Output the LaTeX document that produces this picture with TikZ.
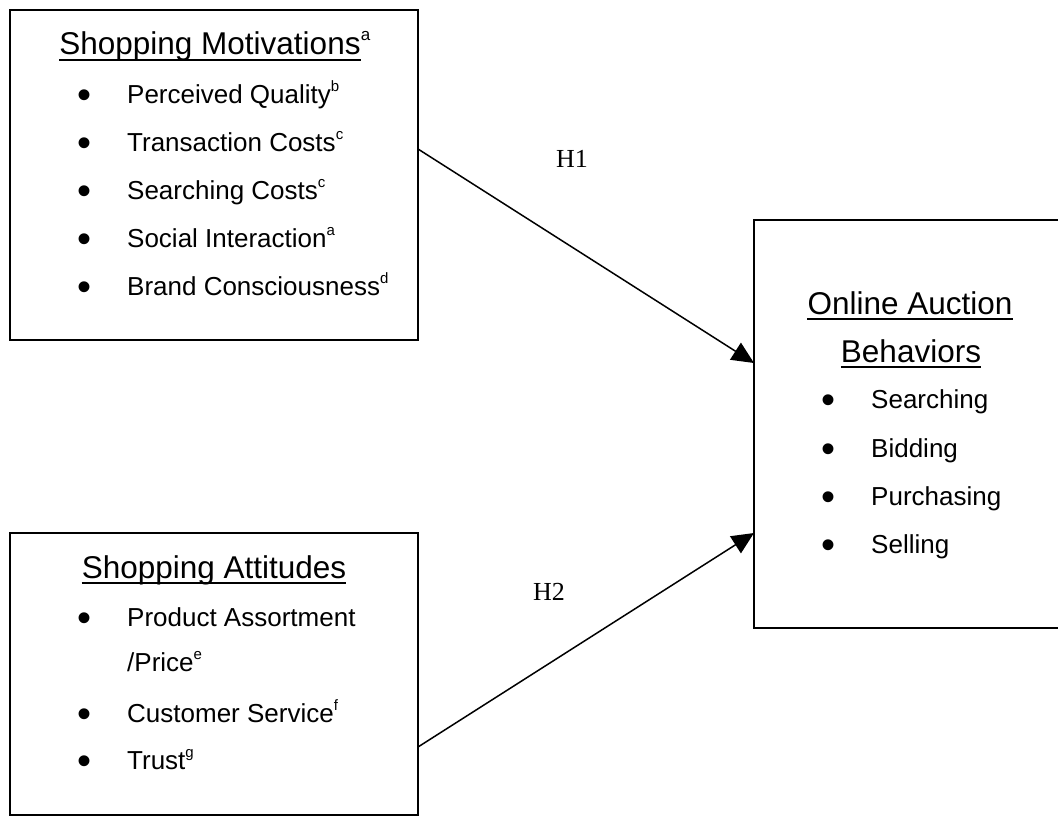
\documentclass[tikz,border=0pt]{standalone}
\usepackage{fontspec}
\setmainfont{Liberation Sans}
\newfontfamily\serifH{Liberation Serif}
\usetikzlibrary{arrows.meta}
\newcommand{\sups}[1]{\raisebox{12pt}{\fontsize{15}{15}\selectfont #1}}
\newcommand{\hsups}[1]{\raisebox{14pt}{\fontsize{17}{17}\selectfont #1}}
\begin{document}
\begin{tikzpicture}[x=1pt,y=-1pt,
  box/.style={draw, line width=2pt, minimum width=408pt, inner sep=0pt, outer sep=0pt},
  head/.style={anchor=base, inner sep=0pt, font=\fontsize{31.5}{36}\selectfont},
  supn/.style={anchor=base west, inner sep=0pt, font=\fontsize{31.5}{36}\selectfont},
  item/.style={anchor=base west, inner sep=0pt, font=\fontsize{26}{30}\selectfont},
  bul/.style={anchor=base, inner sep=0pt, yshift=-5pt, font=\fontsize{40}{40}\selectfont},
  hyp/.style={anchor=base, inner sep=0pt, font=\serifH\fontsize{26}{30}\selectfont},
  arr/.style={line width=1.5pt, -{Triangle[length=22pt,width=20pt]}},
  ul/.style={line width=2pt}]
\useasboundingbox (0,0) rectangle (1058,816);
\clip (0,0) rectangle (1058,816);

% boxes
\node[box, minimum height=330pt] (sm) at (214,175) {};
\node[box, minimum height=282pt] (sa) at (214,674) {};
\node[box, minimum width=312pt, minimum height=408pt] (oab) at (910,424) {};

% Shopping Motivations
\node[head] (hm) at (210,55) {Shopping Motivations};
\draw[ul] ([yshift=-5pt]hm.base west) -- ([yshift=-5pt]hm.base east);
\node[supn] (hma) at (hm.base east) {\hsups{a}};
\node[bul] (b1) at (85,103) {•};
\node[bul] (b2) at (85,151) {•};
\node[bul] (b3) at (85,199) {•};
\node[bul] (b4) at (85,247) {•};
\node[bul] (b5) at (85,295) {•};
\node[item] (i1) at (127,103) {Perceived Quality\sups{b}};
\node[item] (i2) at (127,151) {Transaction Costs\sups{c}};
\node[item] (i3) at (127,199) {Searching Costs\sups{c}};
\node[item] (i4) at (127,247) {Social Interaction\sups{a}};
\node[item] (i5) at (127,295) {Brand Consciousness\sups{d}};

% Shopping Attitudes
\node[head] (ha) at (214,578) {Shopping Attitudes};
\draw[ul] ([yshift=-5pt]ha.base west) -- ([yshift=-5pt]ha.base east);
\node[bul] (c1) at (85,626) {•};
\node[bul] (c2) at (85,722) {•};
\node[bul] (c3) at (85,769) {•};
\node[item] (j1) at (127,626) {Product Assortment};
\node[item] (j1b) at (127,671) {/Price\sups{e}};
\node[item] (j2) at (127,722) {Customer Service\sups{f}};
\node[item] (j3) at (127,769) {Trust\sups{g}};

% Online Auction Behaviors
\node[head] (ho1) at (910,314) {Online Auction};
\draw[ul] ([yshift=-5pt]ho1.base west) -- ([yshift=-5pt]ho1.base east);
\node[head] (ho2) at (911,362) {Behaviors};
\draw[ul] ([yshift=-5pt]ho2.base west) -- ([yshift=-5pt]ho2.base east);
\node[bul] (d1) at (828,408) {•};
\node[bul] (d2) at (828,457) {•};
\node[bul] (d3) at (828,505) {•};
\node[bul] (d4) at (828,553) {•};
\node[item] (k1) at (871,408) {Searching};
\node[item] (k2) at (871,457) {Bidding};
\node[item] (k3) at (871,505) {Purchasing};
\node[item] (k4) at (871,553) {Selling};

% arrows
\draw[arr] ([yshift=-139pt]sm.north east) -- ([yshift=-143pt]oab.north west);
\draw[arr] ([yshift=-214pt]sa.north east) -- ([yshift=-313pt]oab.north west);
\node[hyp] (h1) at (572,167) {H1};
\node[hyp] (h2) at (549,600) {H2};
\end{tikzpicture}
\end{document}
